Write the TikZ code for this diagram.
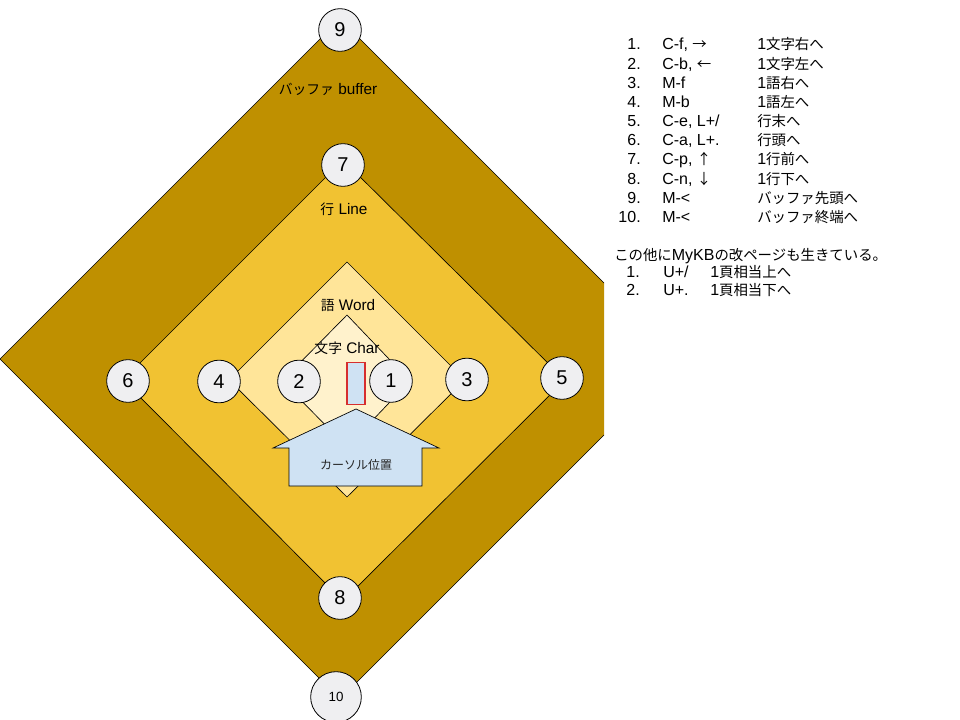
\documentclass[tikz,border=0pt]{standalone}
\usepackage{fontspec}
\setmainfont{Liberation Sans}
\newfontfamily\jpfont[Scale=0.9]{Noto Sans CJK JP}
\newcommand{\ja}[1]{{\jpfont #1}}
\definecolor{buffercol}{HTML}{BF9000}
\definecolor{linecol}{HTML}{F1C232}
\definecolor{wordcol}{HTML}{FFE599}
\definecolor{charcol}{HTML}{FFF2CC}
\definecolor{circlecol}{HTML}{EFEFF1}
\definecolor{cursorcol}{HTML}{CFE2F3}
\definecolor{cursorred}{HTML}{D62E2E}

\begin{document}
\begin{tikzpicture}[
        x=0.75pt, y=-0.75pt,
        layer/.style={draw=black, line width=0.5pt},
        num/.style={
            circle, draw=black, line width=0.6pt, fill=circlecol,
            minimum size=32pt, inner sep=0pt,
            font=\fontsize{15}{15}\selectfont
        },
        tag/.style={font=\fontsize{11.5}{13}\selectfont},
        lista/.style={anchor=base west, inner sep=0pt, font=\fontsize{12}{14}\selectfont}
    ]

        \useasboundingbox (0,0) rectangle (960,720);
        \fill[white] (0,0) rectangle (960,720);

        % Capas: buffer / line / word / char
        \fill[buffercol] (340,19) -- (0,359) -- (340,699) -- (604,435) -- (604,283) -- cycle;
        \draw[layer] (604,283) -- (340,19) -- (0,359) -- (340,699) -- (604,435);
        \filldraw[layer, fill=linecol] (343,160) -- (123,380) -- (343,601) -- (565,380) -- cycle;
        \filldraw[layer, fill=wordcol] (347,262) -- (229,380) -- (347,497) -- (465,380) -- cycle;
        \filldraw[layer, fill=charcol] (347,315) -- (282,381) -- (347,447) -- (410,381) -- cycle;

        % Etiquetas de capas
        \node[tag] (buflabel) at (328,89) {\ja{バッファ} buffer};
        \node[tag] (linelabel) at (344,209) {\ja{行} Line};
        \node[tag] (wordlabel) at (348,305) {\ja{語} Word};
        \node[tag] (charlabel) at (347,348) {\ja{文字} Char};

        % Cursor
        \node[draw=cursorred, fill=cursorcol, line width=0.8pt,
              minimum width=13.5pt, minimum height=32pt, inner sep=0pt] (caret) at (356,383.5) {};
        \filldraw[layer, fill=cursorcol] (356,409) -- (439,448) -- (422,448) -- (422,486)
            -- (289,486) -- (289,448) -- (273,448) -- cycle;
        \node[font=\fontsize{10}{10}\selectfont, text=black!85] (cursorlabel) at (356,465) {\ja{カーソル位置}};

        % Movimientos
        \node[num] (c1) at (391,381) {1};
        \node[num] (c2) at (299,381.5) {2};
        \node[num] (c3) at (467,379.5) {3};
        \node[num] (c4) at (219,381.5) {4};
        \node[num] (c5) at (562,378) {5};
        \node[num] (c6) at (128,381) {6};
        \node[num] (c7) at (343,165) {7};
        \node[num] (c8) at (340,598) {8};
        \node[num] (c9) at (340,30) {9};
        \node[num, minimum size=38pt, font=\fontsize{10}{10}\selectfont] (c10) at (336,697) {10};

        % Lista de teclas
        \node[lista, anchor=base east] (n1) at (641,50) {1.};
        \node[lista] (k1) at (662,50) {C-f, \ja{→}};
        \node[lista] (d1) at (757,50) {1\ja{文字右へ}};
        \node[lista, anchor=base east] (n2) at (641,69.2) {2.};
        \node[lista] (k2) at (662,69.2) {C-b, \ja{←}};
        \node[lista] (d2) at (757,69.2) {1\ja{文字左へ}};
        \node[lista, anchor=base east] (n3) at (641,88.3) {3.};
        \node[lista] (k3) at (662,88.3) {M-f};
        \node[lista] (d3) at (757,88.3) {1\ja{語右へ}};
        \node[lista, anchor=base east] (n4) at (641,107.5) {4.};
        \node[lista] (k4) at (662,107.5) {M-b};
        \node[lista] (d4) at (757,107.5) {1\ja{語左へ}};
        \node[lista, anchor=base east] (n5) at (641,126.6) {5.};
        \node[lista] (k5) at (662,126.6) {C-e, L+/};
        \node[lista] (d5) at (757,126.6) {\ja{行末へ}};
        \node[lista, anchor=base east] (n6) at (641,145.8) {6.};
        \node[lista] (k6) at (662,145.8) {C-a, L+.};
        \node[lista] (d6) at (757,145.8) {\ja{行頭へ}};
        \node[lista, anchor=base east] (n7) at (641,164.9) {7.};
        \node[lista] (k7) at (662,164.9) {C-p, \ja{↑}};
        \node[lista] (d7) at (757,164.9) {1\ja{行前へ}};
        \node[lista, anchor=base east] (n8) at (641,184.1) {8.};
        \node[lista] (k8) at (662,184.1) {C-n, \ja{↓}};
        \node[lista] (d8) at (757,184.1) {1\ja{行下へ}};
        \node[lista, anchor=base east] (n9) at (641,203.2) {9.};
        \node[lista] (k9) at (662,203.2) {M-<};
        \node[lista] (d9) at (757,203.2) {\ja{バッファ先頭へ}};
        \node[lista, anchor=base east] (n10) at (641,222.4) {10.};
        \node[lista] (k10) at (662,222.4) {M-<};
        \node[lista] (d10) at (757,222.4) {\ja{バッファ終端へ}};

        % Otras teclas
        \node[lista] (extra) at (614,261) {\ja{この他に}MyKB\ja{の改ページも生きている。}};
        \node[lista, anchor=base east] (u1) at (640,277.5) {1.};
        \node[lista] (uk1) at (663,277.5) {U+/};
        \node[lista] (ud1) at (710,277.5) {1\ja{頁相当上へ}};
        \node[lista, anchor=base east] (u2) at (640,295.5) {2.};
        \node[lista] (uk2) at (663,295.5) {U+.};
        \node[lista] (ud2) at (710,295.5) {1\ja{頁相当下へ}};

    \end{tikzpicture}
\end{document}
